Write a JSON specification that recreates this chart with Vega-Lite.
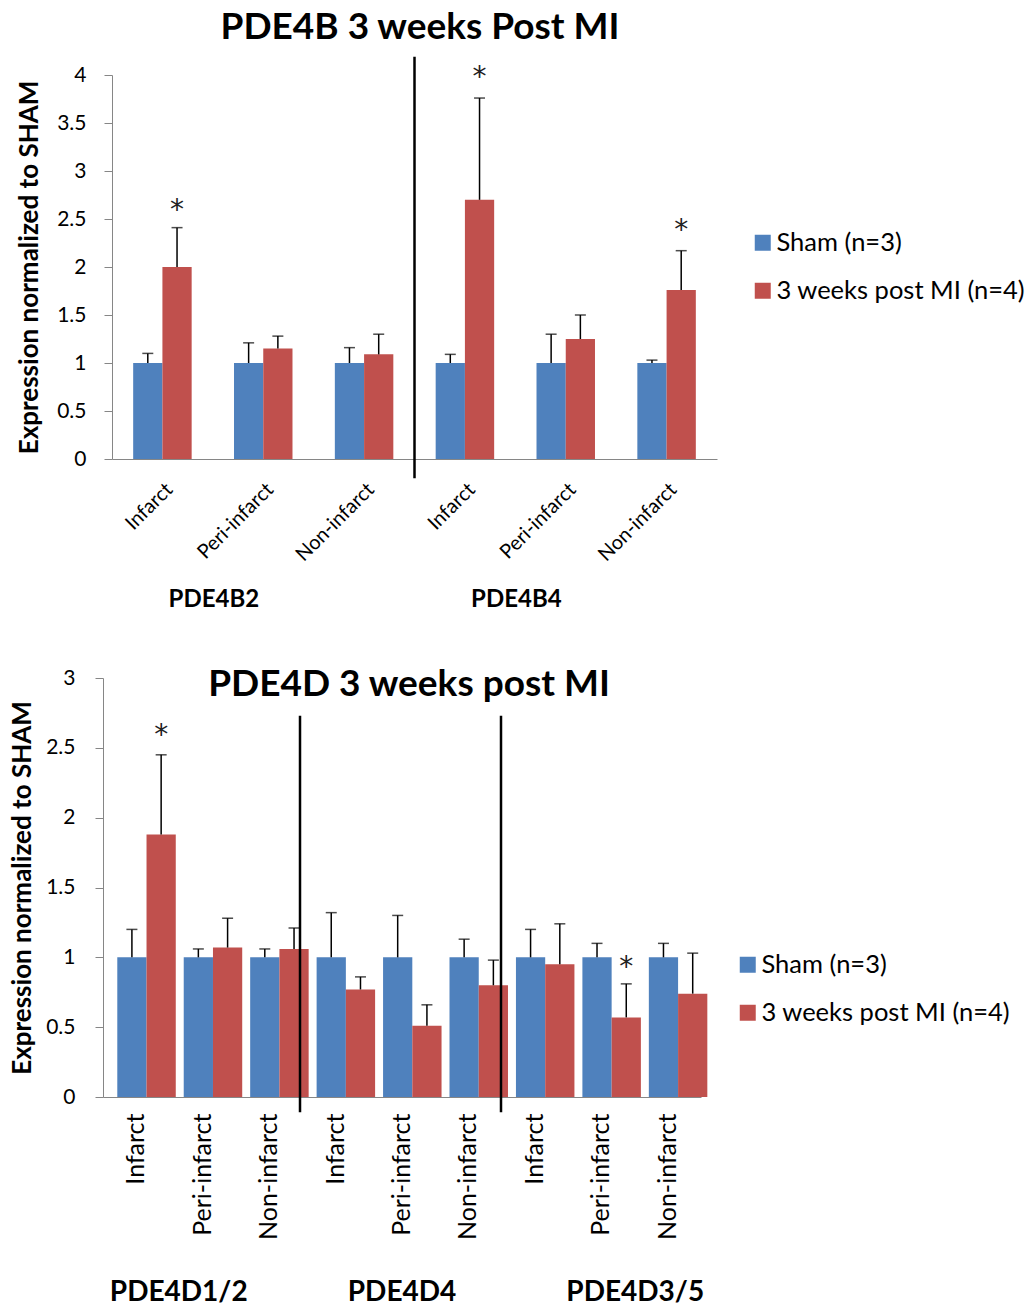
{
  "$schema": "https://vega.github.io/schema/vega-lite/v6.json",
  "padding": {"left": 9, "top": 8, "right": 0, "bottom": 0},
  "config": {
    "font": "Lato",
    "view": {"stroke": null},
    "axis": {"labelColor": "black", "titleColor": "black", "labelFont": "Lato", "titleFont": "Lato"},
    "legend": {"labelFont": "Lato", "labelColor": "black"}
  },
  "datasets": {
    "top": [
      {"cat": "PDE4B2 Infarct", "series": "Sham (n=3)", "value": 1.0, "upper": 1.10, "star": null},
      {"cat": "PDE4B2 Infarct", "series": "3 weeks post MI (n=4)", "value": 2.0, "upper": 2.41, "star": 2.65},
      {"cat": "PDE4B2 Peri-infarct", "series": "Sham (n=3)", "value": 1.0, "upper": 1.21, "star": null},
      {"cat": "PDE4B2 Peri-infarct", "series": "3 weeks post MI (n=4)", "value": 1.15, "upper": 1.28, "star": null},
      {"cat": "PDE4B2 Non-infarct", "series": "Sham (n=3)", "value": 1.0, "upper": 1.16, "star": null},
      {"cat": "PDE4B2 Non-infarct", "series": "3 weeks post MI (n=4)", "value": 1.09, "upper": 1.30, "star": null},
      {"cat": "PDE4B4 Infarct", "series": "Sham (n=3)", "value": 1.0, "upper": 1.09, "star": null},
      {"cat": "PDE4B4 Infarct", "series": "3 weeks post MI (n=4)", "value": 2.70, "upper": 3.76, "star": 4.03},
      {"cat": "PDE4B4 Peri-infarct", "series": "Sham (n=3)", "value": 1.0, "upper": 1.30, "star": null},
      {"cat": "PDE4B4 Peri-infarct", "series": "3 weeks post MI (n=4)", "value": 1.25, "upper": 1.50, "star": null},
      {"cat": "PDE4B4 Non-infarct", "series": "Sham (n=3)", "value": 1.0, "upper": 1.03, "star": null},
      {"cat": "PDE4B4 Non-infarct", "series": "3 weeks post MI (n=4)", "value": 1.76, "upper": 2.17, "star": 2.44}
    ],
    "bottom": [
      {"cat": "PDE4D1/2 Infarct", "series": "Sham (n=3)", "value": 1.0, "upper": 1.20, "star": null},
      {"cat": "PDE4D1/2 Infarct", "series": "3 weeks post MI (n=4)", "value": 1.88, "upper": 2.45, "star": 2.63},
      {"cat": "PDE4D1/2 Peri-infarct", "series": "Sham (n=3)", "value": 1.0, "upper": 1.06, "star": null},
      {"cat": "PDE4D1/2 Peri-infarct", "series": "3 weeks post MI (n=4)", "value": 1.07, "upper": 1.28, "star": null},
      {"cat": "PDE4D1/2 Non-infarct", "series": "Sham (n=3)", "value": 1.0, "upper": 1.06, "star": null},
      {"cat": "PDE4D1/2 Non-infarct", "series": "3 weeks post MI (n=4)", "value": 1.06, "upper": 1.21, "star": null},
      {"cat": "PDE4D4 Infarct", "series": "Sham (n=3)", "value": 1.0, "upper": 1.32, "star": null},
      {"cat": "PDE4D4 Infarct", "series": "3 weeks post MI (n=4)", "value": 0.77, "upper": 0.86, "star": null},
      {"cat": "PDE4D4 Peri-infarct", "series": "Sham (n=3)", "value": 1.0, "upper": 1.30, "star": null},
      {"cat": "PDE4D4 Peri-infarct", "series": "3 weeks post MI (n=4)", "value": 0.51, "upper": 0.66, "star": null},
      {"cat": "PDE4D4 Non-infarct", "series": "Sham (n=3)", "value": 1.0, "upper": 1.13, "star": null},
      {"cat": "PDE4D4 Non-infarct", "series": "3 weeks post MI (n=4)", "value": 0.80, "upper": 0.98, "star": null},
      {"cat": "PDE4D3/5 Infarct", "series": "Sham (n=3)", "value": 1.0, "upper": 1.20, "star": null},
      {"cat": "PDE4D3/5 Infarct", "series": "3 weeks post MI (n=4)", "value": 0.95, "upper": 1.24, "star": null},
      {"cat": "PDE4D3/5 Peri-infarct", "series": "Sham (n=3)", "value": 1.0, "upper": 1.10, "star": null},
      {"cat": "PDE4D3/5 Peri-infarct", "series": "3 weeks post MI (n=4)", "value": 0.57, "upper": 0.81, "star": 0.97},
      {"cat": "PDE4D3/5 Non-infarct", "series": "Sham (n=3)", "value": 1.0, "upper": 1.10, "star": null},
      {"cat": "PDE4D3/5 Non-infarct", "series": "3 weeks post MI (n=4)", "value": 0.74, "upper": 1.03, "star": null}
    ],
    "topDiv": [{"pos": 3.0, "from": -0.2, "to": 4.19}],
    "topGenes": [{"gene": "PDE4B2", "pos": 1.01, "level": -1.47}, {"gene": "PDE4B4", "pos": 4.01, "level": -1.47}],
    "bottomDiv": [{"pos": 2.965, "from": -0.11, "to": 2.73}, {"pos": 5.99, "from": -0.11, "to": 2.73}],
    "bottomGenes": [{"gene": "PDE4D1/2", "pos": 1.14, "level": -1.40}, {"gene": "PDE4D4", "pos": 4.5, "level": -1.40}, {"gene": "PDE4D3/5", "pos": 8.01, "level": -1.40}]
  },
  "vconcat": [
    {
      "title": {"text": "PDE4B 3 weeks Post MI", "fontSize": 37, "fontWeight": "bold", "anchor": "middle", "frame": "group", "offset": 9, "dx": 10, "color": "black"},
      "width": 614,
      "height": 384,
      "layer": [
        {
          "data": {"name": "top"},
          "layer": [
            {
              "mark": {"type": "bar"},
              "encoding": {
                "x": {"field": "cat", "type": "nominal",
                  "scale": {"domain": ["PDE4B2 Infarct", "PDE4B2 Peri-infarct", "PDE4B2 Non-infarct", "PDE4B4 Infarct", "PDE4B4 Peri-infarct", "PDE4B4 Non-infarct"], "range": [9, 614], "paddingInner": 0.42, "paddingOuter": 0.21},
                  "axis": {"title": null, "labelAngle": -45, "labelFontSize": 20, "ticks": false, "labelExpr": "split(datum.label, ' ')[1]", "domainColor": "#868686", "labelPadding": 20}},
                "xOffset": {"field": "series", "type": "nominal", "scale": {"domain": ["Sham (n=3)", "3 weeks post MI (n=4)"]}},
                "y": {"field": "value", "type": "quantitative", "scale": {"domain": [0, 4], "nice": false},
                  "axis": {"values": [0, 0.5, 1, 1.5, 2, 2.5, 3, 3.5, 4], "format": "~g", "title": "Expression normalized to SHAM", "titleFontSize": 26, "titleFontWeight": "bold", "titlePadding": 14, "labelFontSize": 21, "tickSize": 8, "labelPadding": 18, "offset": -9, "grid": false, "domainColor": "#868686", "tickColor": "#868686"}},
                "color": {"field": "series", "type": "nominal",
                  "scale": {"domain": ["Sham (n=3)", "3 weeks post MI (n=4)"], "range": ["#4F81BD", "#C0504D"]},
                  "legend": {"orient": "none", "legendX": 647, "legendY": 155, "title": null, "symbolType": "square", "symbolSize": 256, "symbolStrokeWidth": 0, "labelFontSize": 25.5, "labelLimit": 400, "rowPadding": 21, "labelOffset": 1}}
              }
            },
            {
              "mark": {"type": "rule", "color": "black", "strokeWidth": 1.5},
              "encoding": {
                "x": {"field": "cat", "type": "nominal"},
                "xOffset": {"field": "series", "type": "nominal"},
                "y": {"field": "value", "type": "quantitative", "scale": {"domain": [0, 4], "nice": false}},
                "y2": {"field": "upper"}
              }
            },
            {
              "mark": {"type": "tick", "color": "black", "thickness": 1.5, "size": 11},
              "encoding": {
                "x": {"field": "cat", "type": "nominal"},
                "xOffset": {"field": "series", "type": "nominal"},
                "y": {"field": "upper", "type": "quantitative", "scale": {"domain": [0, 4], "nice": false}}
              }
            },
            {
              "transform": [{"filter": "datum.star != null"}],
              "mark": {"type": "text", "font": "DejaVu Sans", "fontSize": 28, "baseline": "middle", "dy": 6, "color": "#222222"},
              "encoding": {
                "x": {"field": "cat", "type": "nominal"},
                "xOffset": {"field": "series", "type": "nominal"},
                "y": {"field": "star", "type": "quantitative", "scale": {"domain": [0, 4], "nice": false}},
                "text": {"value": "*"}
              }
            }
          ]
        },
        {
          "layer": [
            {
              "data": {"name": "topDiv"},
              "mark": {"type": "rule", "color": "black", "strokeWidth": 2.5},
              "encoding": {
                "x": {"field": "pos", "type": "quantitative", "scale": {"domain": [0, 6], "range": [9, 614], "nice": false, "zero": false}, "axis": null},
                "y": {"field": "from", "type": "quantitative", "scale": {"domain": [0, 4], "nice": false}},
                "y2": {"field": "to"}
              }
            },
            {
              "data": {"name": "topGenes"},
              "mark": {"type": "text", "fontSize": 24, "fontWeight": "bold", "baseline": "middle", "color": "black"},
              "encoding": {
                "x": {"field": "pos", "type": "quantitative", "axis": null},
                "y": {"field": "level", "type": "quantitative", "scale": {"domain": [0, 4], "nice": false}},
                "text": {"field": "gene"}
              }
            }
          ]
        }
      ],
      "resolve": {"scale": {"x": "independent"}, "axis": {"x": "independent"}}
    },
    {
      "title": {"text": "PDE4D 3 weeks post MI", "fontSize": 37, "fontWeight": "bold", "anchor": "middle", "frame": "group", "offset": -37, "dx": 7, "color": "black"},
      "width": 598,
      "height": 419,
      "layer": [
        {
          "data": {"name": "bottom"},
          "layer": [
            {
              "mark": {"type": "bar"},
              "encoding": {
                "x": {"field": "cat", "type": "nominal",
                  "scale": {"domain": ["PDE4D1/2 Infarct", "PDE4D1/2 Peri-infarct", "PDE4D1/2 Non-infarct", "PDE4D4 Infarct", "PDE4D4 Peri-infarct", "PDE4D4 Non-infarct", "PDE4D3/5 Infarct", "PDE4D3/5 Peri-infarct", "PDE4D3/5 Non-infarct"], "paddingInner": 0.43, "paddingOuter": 0.215},
                  "axis": {"title": null, "labelAngle": -90, "labelFontSize": 25, "ticks": false, "labelExpr": "split(datum.label, ' ')[1]", "domainColor": "#868686", "labelPadding": 16}},
                "xOffset": {"field": "series", "type": "nominal", "scale": {"domain": ["Sham (n=3)", "3 weeks post MI (n=4)"]}},
                "y": {"field": "value", "type": "quantitative", "scale": {"domain": [0, 3], "nice": false},
                  "axis": {"values": [0, 0.5, 1, 1.5, 2, 2.5, 3], "format": "~g", "title": "Expression normalized to SHAM", "titleFontSize": 26, "titleFontWeight": "bold", "titlePadding": 10, "labelFontSize": 21, "tickSize": 8, "labelPadding": 20, "grid": false, "domainColor": "#868686", "tickColor": "#868686"}},
                "color": {"field": "series", "type": "nominal",
                  "scale": {"domain": ["Sham (n=3)", "3 weeks post MI (n=4)"], "range": ["#4F81BD", "#C0504D"]},
                  "legend": {"orient": "none", "legendX": 632, "legendY": 274, "title": null, "symbolType": "square", "symbolSize": 256, "symbolStrokeWidth": 0, "labelFontSize": 25.5, "labelLimit": 400, "rowPadding": 21, "labelOffset": 1}}
              }
            },
            {
              "mark": {"type": "rule", "color": "black", "strokeWidth": 1.5},
              "encoding": {
                "x": {"field": "cat", "type": "nominal"},
                "xOffset": {"field": "series", "type": "nominal"},
                "y": {"field": "value", "type": "quantitative", "scale": {"domain": [0, 3], "nice": false}},
                "y2": {"field": "upper"}
              }
            },
            {
              "mark": {"type": "tick", "color": "black", "thickness": 1.5, "size": 11},
              "encoding": {
                "x": {"field": "cat", "type": "nominal"},
                "xOffset": {"field": "series", "type": "nominal"},
                "y": {"field": "upper", "type": "quantitative", "scale": {"domain": [0, 3], "nice": false}}
              }
            },
            {
              "transform": [{"filter": "datum.star != null"}],
              "mark": {"type": "text", "font": "DejaVu Sans", "fontSize": 28, "baseline": "middle", "dy": 6, "color": "#222222"},
              "encoding": {
                "x": {"field": "cat", "type": "nominal"},
                "xOffset": {"field": "series", "type": "nominal"},
                "y": {"field": "star", "type": "quantitative", "scale": {"domain": [0, 3], "nice": false}},
                "text": {"value": "*"}
              }
            }
          ]
        },
        {
          "layer": [
            {
              "data": {"name": "bottomDiv"},
              "mark": {"type": "rule", "color": "black", "strokeWidth": 2.5},
              "encoding": {
                "x": {"field": "pos", "type": "quantitative", "scale": {"domain": [0, 9], "nice": false, "zero": false}, "axis": null},
                "y": {"field": "from", "type": "quantitative", "scale": {"domain": [0, 3], "nice": false}},
                "y2": {"field": "to"}
              }
            },
            {
              "data": {"name": "bottomGenes"},
              "mark": {"type": "text", "fontSize": 28, "fontWeight": "bold", "baseline": "middle", "color": "black"},
              "encoding": {
                "x": {"field": "pos", "type": "quantitative", "axis": null},
                "y": {"field": "level", "type": "quantitative", "scale": {"domain": [0, 3], "nice": false}},
                "text": {"field": "gene"}
              }
            }
          ]
        }
      ],
      "resolve": {"scale": {"x": "independent"}, "axis": {"x": "independent"}}
    }
  ],
  "spacing": 219,
  "bounds": "flush",
  "resolve": {"scale": {"color": "independent"}, "legend": {"color": "independent"}}
}
